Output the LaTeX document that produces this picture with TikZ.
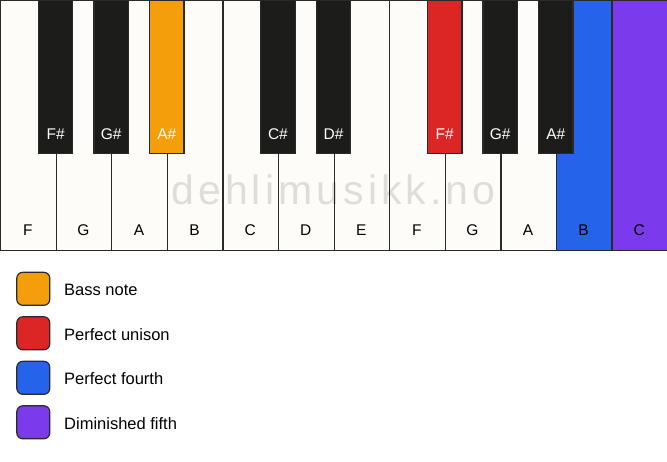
\documentclass[tikz,border=0pt]{standalone}
\usepackage{fontspec}
\setmainfont{Liberation Sans}
\newfontfamily\wmfont[LetterSpace=10]{Liberation Sans}
\definecolor{keywhite}{HTML}{FEFCF8}
\definecolor{keyblack}{HTML}{1C1C1A}
\definecolor{keyline}{HTML}{2A2A2A}
\definecolor{cbass}{HTML}{F59E0B}
\definecolor{cunison}{HTML}{DC2626}
\definecolor{cfourth}{HTML}{2563EB}
\definecolor{cfifth}{HTML}{7C3AED}
\tikzset{
  whitekey/.style={draw=keyline, line width=1.3pt, rectangle, minimum width=55.583pt, minimum height=250pt, anchor=north west, inner sep=0pt},
  blackkey/.style={draw=keyline, line width=1.3pt, rectangle, minimum width=34.5pt, minimum height=153pt, anchor=north, inner sep=0pt},
  wlabel/.style={font=\fontsize{15.5}{18}\selectfont, text=black, anchor=base},
  blabel/.style={font=\fontsize{15.5}{18}\selectfont, text=white, anchor=base},
  legbox/.style={draw=keyline, line width=1.2pt, rounded corners=6pt, minimum width=33pt, minimum height=33pt, inner sep=0pt},
  legtext/.style={font=\fontsize{16.5}{19}\selectfont, anchor=base west, inner sep=0pt},
}
\begin{document}
\begin{tikzpicture}[x=1pt,y=-1pt]
\useasboundingbox (0,0) rectangle (667,461);
\fill[white] (0,0) rectangle (667,461);
\def\kw{55.583}
% white keys
\foreach \n/\i/\c in {F/0/keywhite, G/1/keywhite, A/2/keywhite, B/3/keywhite, C/4/keywhite, D/5/keywhite, E/6/keywhite, F/7/keywhite, G/8/keywhite, A/9/keywhite, B/10/cfourth, C/11/cfifth}{
  \node[whitekey, fill=\c] (w\i) at (\i*\kw, 0) {};
  \node[wlabel] (wl\i) at (\i*\kw+0.5*\kw, 235.5) {\n};
}
% watermark
\node[font=\wmfont\fontsize{41}{45}\selectfont, text=black, opacity=0.12, anchor=base] (wm) at (333.5, 204.5) {dehlimusikk.no};
% black keys
\foreach \n/\i/\c in {F\#/1/keyblack, G\#/2/keyblack, A\#/3/cbass, C\#/5/keyblack, D\#/6/keyblack, F\#/8/cunison, G\#/9/keyblack, A\#/10/keyblack}{
  \node[blackkey, fill=\c] (b\i) at (\i*\kw, -0.5) {};
  \node[blabel] (bl\i) at (\i*\kw, 139) {\n};
}
% legend
\node[legbox, fill=cbass] (lg1) at (33.3, 288.8) {};
\node[legtext] (lt1) at (64, 295.6) {Bass note};
\node[legbox, fill=cunison] (lg2) at (33.3, 333.3) {};
\node[legtext] (lt2) at (64, 340.1) {Perfect unison};
\node[legbox, fill=cfourth] (lg3) at (33.3, 377.8) {};
\node[legtext] (lt3) at (64, 384.6) {Perfect fourth};
\node[legbox, fill=cfifth] (lg4) at (33.3, 422.3) {};
\node[legtext] (lt4) at (64, 429.1) {Diminished fifth};
\end{tikzpicture}
\end{document}
